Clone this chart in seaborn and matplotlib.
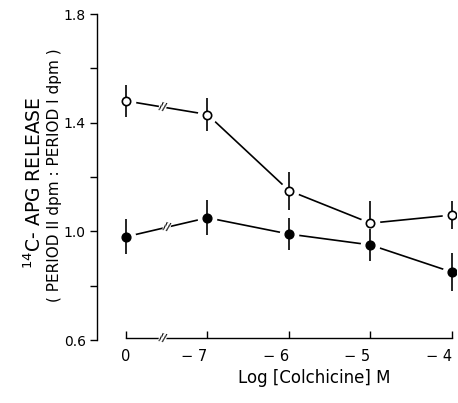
import matplotlib
matplotlib.use("Agg")
import matplotlib.pyplot as plt
import seaborn as sns
import pandas as pd

# ---- data ----
conc_labels = ["0", "\u2212 7", "\u2212 6", "\u2212 5", "\u2212 4"]
open_vals = [1.48, 1.43, 1.15, 1.03, 1.06]
open_err_lo = [0.06, 0.06, 0.07, 0.0, 0.05]
open_err_hi = [0.06, 0.06, 0.07, 0.08, 0.05]
filled_vals = [0.98, 1.05, 0.99, 0.95, 0.85]
filled_err = [0.065, 0.065, 0.06, 0.06, 0.07]
y_ticks = [0.6, 0.8, 1.0, 1.2, 1.4, 1.6, 1.8]
y_tick_labels = ["0.6", "", "1.0", "", "1.4", "", "1.8"]

pos = list(range(len(conc_labels)))
df_open = pd.DataFrame({"x": pos, "y": open_vals})
df_filled = pd.DataFrame({"x": pos, "y": filled_vals})

sns.set_style("ticks")
plt.rcParams["font.family"] = ["DejaVu Sans"]
plt.rcParams.update({"text.color": "black", "axes.labelcolor": "black",
                     "xtick.color": "black", "ytick.color": "black",
                     "axes.edgecolor": "black"})

fig = plt.figure(figsize=(4.58, 4.03), dpi=100)
ax = fig.add_axes([97 / 458, 63 / 403, 359 / 458, 326 / 403])

lw = 1.2
# lines
sns.lineplot(data=df_open, x="x", y="y", ax=ax, color="black", lw=lw, zorder=1)
sns.lineplot(data=df_filled, x="x", y="y", ax=ax, color="black", lw=lw, zorder=1)
# white halos to leave gaps near markers
for d in (df_open, df_filled):
    ax.scatter(d["x"], d["y"], s=200, color="white", zorder=2, linewidths=0)
# error bars
ax.errorbar(pos, open_vals, yerr=[open_err_lo, open_err_hi], fmt="none",
            ecolor="black", elinewidth=lw, capsize=0, zorder=3)
ax.errorbar(pos, filled_vals, yerr=filled_err, fmt="none",
            ecolor="black", elinewidth=lw, capsize=0, zorder=3)
# markers
sns.scatterplot(data=df_open, x="x", y="y", ax=ax, s=36, facecolor="white",
                edgecolor="black", linewidth=1.2, zorder=4, legend=False)
sns.scatterplot(data=df_filled, x="x", y="y", ax=ax, s=40, color="black",
                edgecolor="black", linewidth=1.0, zorder=4, legend=False)

# break marks
def brk(xv, yv):
    ax.text(xv, yv, "//", ha="center", va="center", fontsize=7, rotation=-15,
            fontweight="bold", zorder=5,
            bbox=dict(facecolor="white", edgecolor="none", pad=0.2))

brk(0.45, open_vals[0] + (open_vals[1] - open_vals[0]) * 0.45)
brk(0.5, filled_vals[0] + (filled_vals[1] - filled_vals[0]) * 0.5)
brk(0.45, 0.607)

ax.spines["top"].set_visible(False)
ax.spines["right"].set_visible(False)
ax.spines["bottom"].set_bounds(0, 4)
ax.spines["bottom"].set_position(("data", 0.607))
for s in ("left", "bottom"):
    ax.spines[s].set_linewidth(1)
    ax.spines[s].set_color("black")

ax.set_xlim(-0.356, 4.05)
ax.set_ylim(0.6, 1.8)
ax.set_yticks(y_ticks)
ax.set_yticklabels(y_tick_labels, fontsize=10)
ax.set_xticks(pos)
ax.set_xticklabels(conc_labels, fontsize=10.5)
ax.tick_params(axis="x", direction="in", length=5, width=1, pad=8)
ax.tick_params(axis="y", direction="out", length=5, width=1, pad=3)
for i, lab in enumerate(ax.get_xticklabels()):
    if i > 0:
        lab.set_horizontalalignment("right")

ax.set_xlabel("Log [Colchicine] M", fontsize=12, labelpad=8)
ax.xaxis.set_label_coords(0.605, -0.09)
ax.set_ylabel("")
fig.text(34 / 458, 1 - 183 / 403, r"$^{14}$C- APG RELEASE", rotation=90,
         ha="center", va="center", fontsize=13.5)
fig.text(55 / 458, 1 - 175 / 403, "( PERIOD II dpm : PERIOD I dpm )",
         rotation=90, ha="center", va="center", fontsize=11)

fig.savefig("out.png", dpi=100)
